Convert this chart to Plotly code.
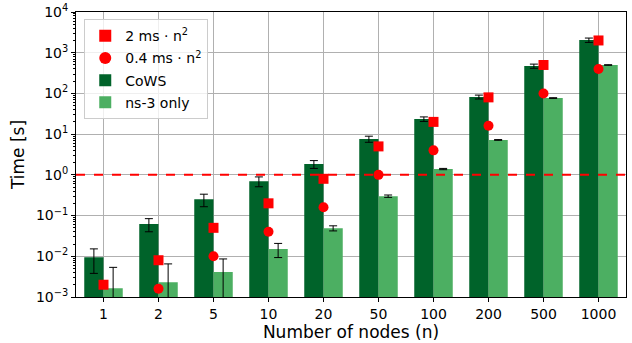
import plotly.graph_objects as go

nodes = ["1", "2", "5", "10", "20", "50", "100", "200", "500", "1000"]
cows = [0.0095, 0.062, 0.25, 0.70, 1.84, 7.6, 23.5, 82, 470, 2040]
cows_err = [0.0057, 0.022, 0.085, 0.19, 0.4, 1.3, 3.0, 9.0, 55, 250]
ns3 = [0.00165, 0.0023, 0.0041, 0.015, 0.049, 0.30, 1.39, 7.2, 77, 499]
ns3_err = [0.0037, 0.0042, 0.0045, 0.0057, 0.007, 0.02, 0.05, 0.15, 1.5, 8]
fit_2ms = [0.002, 0.008, 0.05, 0.2, 0.8, 5, 20, 80, 500, 2000]
fit_04ms = [0.0004, 0.0016, 0.01, 0.04, 0.16, 1, 4, 16, 100, 400]
threshold = 1.0
y_tickvals = [1e-3, 1e-2, 1e-1, 1, 10, 100, 1000, 10000]
y_ticktext = ["10<sup>−3</sup>", "10<sup>−2</sup>", "10<sup>−1</sup>", "10<sup>0</sup>",
              "10<sup>1</sup>", "10<sup>2</sup>", "10<sup>3</sup>", "10<sup>4</sup>"]
y_minor = [m * d for d in y_tickvals[:-1] for m in range(2, 10)]

dark = "#00632a"
light = "#4caf62"
red = "#ff0000"
font = "DejaVu Sans"

fig = go.Figure()
fig.add_trace(go.Bar(x=nodes, y=cows, name="CoWS", legendgroup="c", legendrank=3,
                     marker=dict(color=dark, line=dict(width=0)),
                     error_y=dict(type="data", array=cows_err, color="black", thickness=1, width=4)))
fig.add_trace(go.Bar(x=nodes, y=ns3, name="ns-3 only", legendgroup="d", legendrank=4,
                     marker=dict(color=light, line=dict(width=0)),
                     error_y=dict(type="data", array=ns3_err, color="black", thickness=1, width=4)))
fig.add_trace(go.Scatter(x=nodes, y=fit_2ms, mode="markers", name="2 ms · n<sup>2</sup>",
                         legendgroup="a", legendrank=1,
                         marker=dict(symbol="square", size=10, color=red)))
fig.add_trace(go.Scatter(x=nodes, y=fit_04ms, mode="markers", name="0.4 ms · n<sup>2</sup>",
                         legendgroup="b", legendrank=2,
                         marker=dict(symbol="circle", size=10, color=red)))

fig.add_shape(type="line", xref="paper", x0=0, x1=1, yref="y", y0=threshold, y1=threshold,
              line=dict(color=red, width=2, dash="dash"), layer="above")

fig.update_layout(
    width=632, height=343,
    margin=dict(l=76, r=6, t=12, b=46),
    plot_bgcolor="white", paper_bgcolor="white",
    font=dict(family=font, size=14, color="black"),
    barmode="group", bargap=0.3, bargroupgap=0,
    legend=dict(x=0.015, y=0.975, xanchor="left", yanchor="top",
                bordercolor="#cccccc", borderwidth=1, bgcolor="rgba(255,255,255,0.8)",
                font=dict(size=14), traceorder="grouped", tracegroupgap=1,
                itemsizing="constant"),
    showlegend=True,
)
fig.update_xaxes(
    type="category", categoryorder="array", categoryarray=nodes, automargin=False,
    showgrid=True, gridcolor="#b0b0b0", gridwidth=1,
    showline=True, linecolor="black", linewidth=1, mirror=True,
    ticks="outside", ticklen=4, tickcolor="black",
    title=dict(text="Number of nodes (n)", standoff=0),
    range=[-0.5, 9.5],
)
fig.update_yaxes(
    type="log", range=[-3, 4], tickvals=y_tickvals, ticktext=y_ticktext, automargin=False,
    showgrid=True, gridcolor="#b0b0b0", gridwidth=1,
    showline=True, linecolor="black", linewidth=1, mirror=True,
    ticks="outside", ticklen=4, tickcolor="black",
    minor=dict(tickmode="array", tickvals=y_minor, ticks="outside", ticklen=2,
               tickcolor="black", showgrid=False),
    title=dict(text="Time [s]", standoff=6),
)

fig.write_html("out.html", config={"displayModeBar": False},
               post_script="document.body.style.margin='0';")
